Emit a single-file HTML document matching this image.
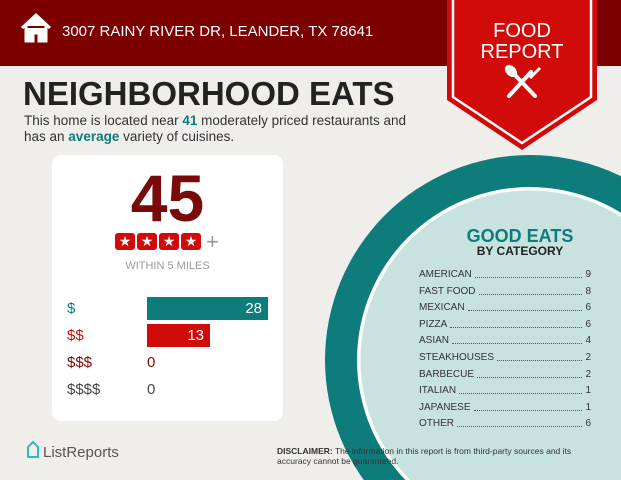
<!DOCTYPE html>
<html><head><meta charset="utf-8"><style>
*{margin:0;padding:0;box-sizing:border-box}
body{width:621px;height:480px;overflow:hidden;background:#f0eeeb;font-family:"Liberation Sans",sans-serif;position:relative}
.a{position:absolute;white-space:nowrap}
.row{position:absolute;left:419px;width:172px;display:flex;font-size:10px;color:#333;line-height:12px}
.row .d{flex:1;border-bottom:1px dotted #555;margin:0 3px 3px}
</style></head><body>
<div class="a" style="left:0;top:0;width:621px;height:66px;background:#7d0000"></div>
<svg class="a" style="left:0;top:0" width="621" height="480">
<circle cx="530" cy="360" r="205" fill="#0e7c7b"/>
<circle cx="530" cy="360" r="173" fill="#fff"/>
<circle cx="530" cy="360" r="169.5" fill="#c8e2df"/>
<polygon points="447,0 597,0 597,100 522,150 447,100" fill="#d10a0a"/>
<polyline points="453,0 453,97 522,143 591,97 591,0" fill="none" stroke="#fff" stroke-width="2.5"/>
<g stroke="#fff" stroke-width="4" stroke-linecap="round">
<line x1="509" y1="96" x2="531" y2="72"/><line x1="535" y1="96" x2="514" y2="74"/></g>
<ellipse cx="511" cy="71" rx="5" ry="7" fill="#fff" transform="rotate(-45 511 71)"/>
<path d="M530 78 L540 68" stroke="#fff" stroke-width="3"/>
<path d="M22 28 L36 15 L50 28 M26 26 V41 H33 V33 H39 V41 H46 V26" fill="#fff" stroke="#fff" stroke-width="3"/>
<line x1="67" y1="285" x2="268" y2="285" stroke="#999" stroke-dasharray="2,2"/>
<path d="M28 447 l5-5 5 5 v10 h-10z" fill="none" stroke="#3bb" stroke-width="2"/>
</svg>
<div class="a" style="left:62px;top:23px;color:#fff;font-size:15px">3007 RAINY RIVER DR, LEANDER, TX 78641</div>
<div class="a" style="left:447px;top:21px;width:150px;text-align:center;color:#fff;font-size:20px;line-height:21px">FOOD<br>REPORT</div>
<div class="a" style="left:23px;top:75px;font-size:33px;font-weight:bold;color:#222">NEIGHBORHOOD EATS</div>
<div class="a" style="left:24px;top:113px;font-size:13.5px;color:#333;line-height:16px">This home is located near <b style="color:#0e7c7b">41</b> moderately priced restaurants and<br>has an <b style="color:#0e7c7b">average</b> variety of cuisines.</div>
<div class="a" style="left:52px;top:155px;width:231px;height:266px;background:#fff;border-radius:9px"></div>
<div class="a" style="left:52px;top:163px;width:231px;text-align:center;font-size:66px;font-weight:bold;color:#7a0a0a;line-height:70px">45</div>
<div class="a" style="left:115px;top:233px;display:flex;gap:2px">
<span style="width:20px;height:17px;background:#d10a0a;border-radius:3px;color:#fff;font-size:14px;text-align:center;line-height:17px">★</span><span style="width:20px;height:17px;background:#d10a0a;border-radius:3px;color:#fff;font-size:14px;text-align:center;line-height:17px">★</span><span style="width:20px;height:17px;background:#d10a0a;border-radius:3px;color:#fff;font-size:14px;text-align:center;line-height:17px">★</span><span style="width:20px;height:17px;background:#d10a0a;border-radius:3px;color:#fff;font-size:14px;text-align:center;line-height:17px">★</span><span style="color:#999;font-size:22px;line-height:17px;margin-left:3px">+</span></div>
<div class="a" style="left:52px;top:260px;width:231px;text-align:center;font-size:11px;color:#999">WITHIN 5 MILES</div>
<div class="a" style="left:147px;top:297px;width:121px;height:23px;background:#0e7c7b;color:#fff;font-size:15px;text-align:right;padding-right:6px;line-height:23px">28</div>
<div class="a" style="left:147px;top:324px;width:63px;height:23px;background:#d10a0a;color:#fff;font-size:15px;text-align:right;padding-right:6px;line-height:23px">13</div>
<div class="a" style="left:67px;top:300px;font-size:15px;color:#0e7c7b">$</div>
<div class="a" style="left:67px;top:327px;font-size:15px;color:#c01010">$$</div>
<div class="a" style="left:67px;top:354px;font-size:15px;color:#7a0a0a">$$$</div>
<div class="a" style="left:147px;top:354px;font-size:15px;color:#7a0a0a">0</div>
<div class="a" style="left:67px;top:381px;font-size:15px;color:#444">$$$$</div>
<div class="a" style="left:147px;top:381px;font-size:15px;color:#444">0</div>
<div class="a" style="left:420px;top:226px;width:200px;text-align:center;font-size:18px;font-weight:bold;color:#0e7c7b">GOOD EATS</div>
<div class="a" style="left:420px;top:244px;width:200px;text-align:center;font-size:12px;font-weight:bold;color:#222">BY CATEGORY</div>
<div class="row" style="top:269px"><span>AMERICAN</span><span class="d"></span><span>9</span></div>
<div class="row" style="top:286px"><span>FAST FOOD</span><span class="d"></span><span>8</span></div>
<div class="row" style="top:302px"><span>MEXICAN</span><span class="d"></span><span>6</span></div>
<div class="row" style="top:319px"><span>PIZZA</span><span class="d"></span><span>6</span></div>
<div class="row" style="top:335px"><span>ASIAN</span><span class="d"></span><span>4</span></div>
<div class="row" style="top:352px"><span>STEAKHOUSES</span><span class="d"></span><span>2</span></div>
<div class="row" style="top:369px"><span>BARBECUE</span><span class="d"></span><span>2</span></div>
<div class="row" style="top:385px"><span>ITALIAN</span><span class="d"></span><span>1</span></div>
<div class="row" style="top:402px"><span>JAPANESE</span><span class="d"></span><span>1</span></div>
<div class="row" style="top:418px"><span>OTHER</span><span class="d"></span><span>6</span></div>
<div class="a" style="left:43px;top:444px;font-size:15px;color:#555">ListReports</div>
<div class="a" style="left:277px;top:446px;font-size:8.5px;color:#333;line-height:10px"><b>DISCLAIMER:</b> The information in this report is from third-party sources and its<br>accuracy cannot be guaranteed.</div>
</body></html>
